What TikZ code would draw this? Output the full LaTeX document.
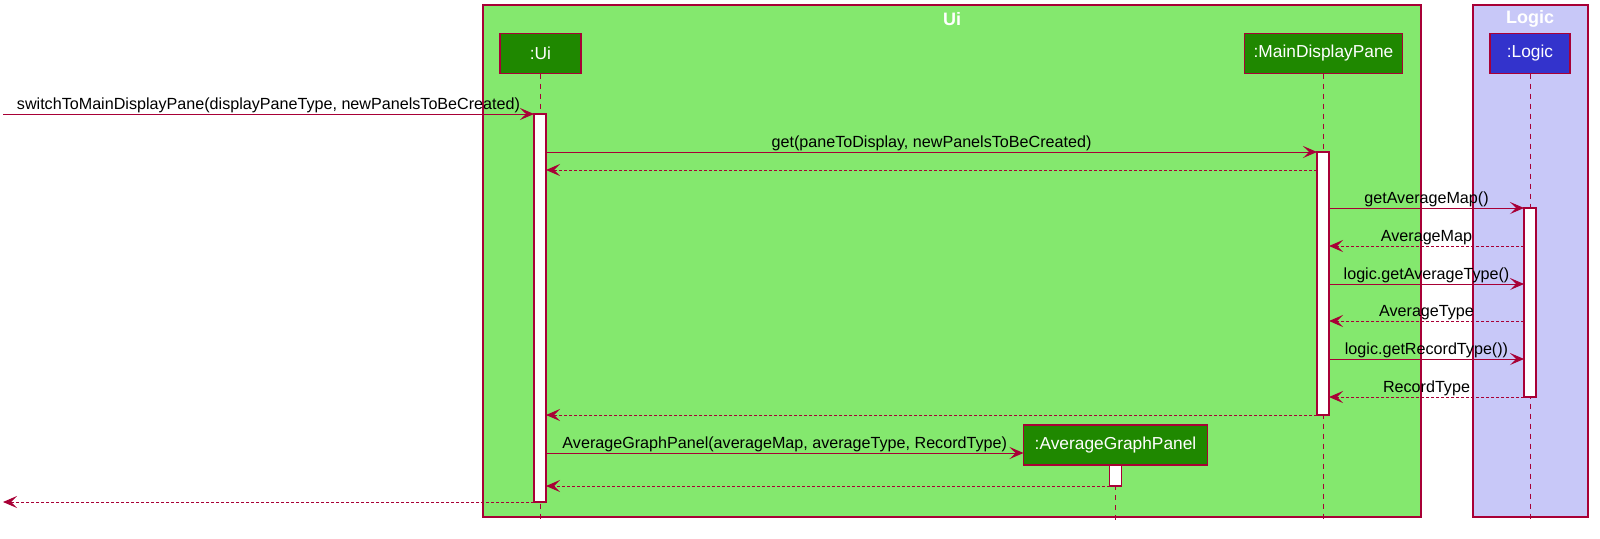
\documentclass[tikz,border=0pt]{standalone}
\usepackage{fontspec}
\setmainfont{Liberation Sans}
\usetikzlibrary{arrows.meta}
\definecolor{umlred}{HTML}{A80036}
\definecolor{uiback}{RGB}{132,232,110}
\definecolor{uibox}{RGB}{31,136,0}
\definecolor{logicback}{RGB}{200,200,248}
\definecolor{logicbox}{RGB}{51,51,204}
\begin{document}
\begin{tikzpicture}[x=0.75pt,y=-0.75pt,
  every node/.style={inner sep=0pt, outer sep=0pt},
  grp/.style={draw=umlred, line width=1pt},
  grptitle/.style={text=white, font=\bfseries\fontsize{13.5}{16}\selectfont},
  part/.style={draw=umlred, line width=1.1pt, text=white,
    font=\fontsize{13}{15}\selectfont, minimum height=30pt},
  actbar/.style={draw=umlred, fill=white, line width=0.8pt, minimum width=9pt},
  life/.style={draw=umlred, line width=0.75pt, dash pattern=on 3.75pt off 3.75pt},
  call/.style={draw=umlred, line width=0.75pt,
    -{Stealth[length=10.5pt,width=9pt,inset=4.5pt]}},
  ret/.style={call, dash pattern=on 2.25pt off 1.5pt},
  msg/.style={font=\fontsize{12.1}{14}\selectfont, anchor=base, yshift=3.75pt},
]
\useasboundingbox (0,0) rectangle (1600,539);

% boxes grouping the participants
\filldraw[grp, fill=uiback] (483,5) rectangle (1421,517);
\filldraw[grp, fill=logicback] (1473,5) rectangle (1588,517);
\node[grptitle] (uititle) at (952,19) {Ui};
\node[grptitle] (logictitle) at (1530,19) {Logic};

% participants
\node[part, fill=uibox, minimum width=60.75pt] (ui) at (540.5,53.5) {:Ui};
\node[part, fill=uibox, minimum width=118.5pt] (mdp) at (1323.5,53.5) {:MainDisplayPane};
\node[part, fill=logicbox, minimum width=60pt] (logic) at (1530,53.5) {:Logic};

% lifelines
\draw[life] (ui.south) -- (ui.south |- 0,522);
\draw[life] (mdp.south) -- (mdp.south |- 0,522);
\draw[life] (logic.south) -- (logic.south |- 0,522);

% created participant
\node[part, fill=uibox, minimum width=138pt] (agp) at (1115.5,445) {:AverageGraphPanel};
\draw[life] (agp.south) -- (agp.south |- 0,522);

% activation bars
\node[actbar, minimum height=291pt] (actUi) at (540,308) {};
\node[actbar, minimum height=197.25pt] (actMdp) at (1323,283.5) {};
\node[actbar, minimum height=141.75pt] (actLogic) at (1530,302.5) {};
\node[actbar, minimum height=15.75pt] (actAgp) at (1115.5,475.5) {};

% free ends of the incoming and outgoing messages
\coordinate (entry) at (3,114);
\coordinate (exit) at (3,502);

% messages
\draw[call] (entry) -- (actUi.west |- 0,114)
  node[msg, midway] {switchToMainDisplayPane(displayPaneType, newPanelsToBeCreated)};
\draw[call] (actUi.east |- 0,152) -- (actMdp.west |- 0,152)
  node[msg, midway] {get(paneToDisplay, newPanelsToBeCreated)};
\draw[ret] (actMdp.west |- 0,170) -- (actUi.east |- 0,170);
\draw[call] (actMdp.east |- 0,208) -- (actLogic.west |- 0,208)
  node[msg, midway] {getAverageMap()};
\draw[ret] (actLogic.west |- 0,246) -- (actMdp.east |- 0,246)
  node[msg, midway] {AverageMap};
\draw[call] (actMdp.east |- 0,284) -- (actLogic.west |- 0,284)
  node[msg, midway] {logic.getAverageType()};
\draw[ret] (actLogic.west |- 0,321) -- (actMdp.east |- 0,321)
  node[msg, midway] {AverageType};
\draw[call] (actMdp.east |- 0,359) -- (actLogic.west |- 0,359)
  node[msg, midway] {logic.getRecordType())};
\draw[ret] (actLogic.west |- 0,397) -- (actMdp.east |- 0,397)
  node[msg, midway] {RecordType};
\draw[ret] (actMdp.west |- 0,415) -- (actUi.east |- 0,415);
\draw[call] (actUi.east |- 0,453) -- (agp.west |- 0,453)
  node[msg, midway] {AverageGraphPanel(averageMap, averageType, RecordType)};
\draw[ret] (actAgp.west |- 0,486) -- (actUi.east |- 0,486);
\draw[ret] (actUi.west |- 0,502) -- (exit);
\end{tikzpicture}
\end{document}
